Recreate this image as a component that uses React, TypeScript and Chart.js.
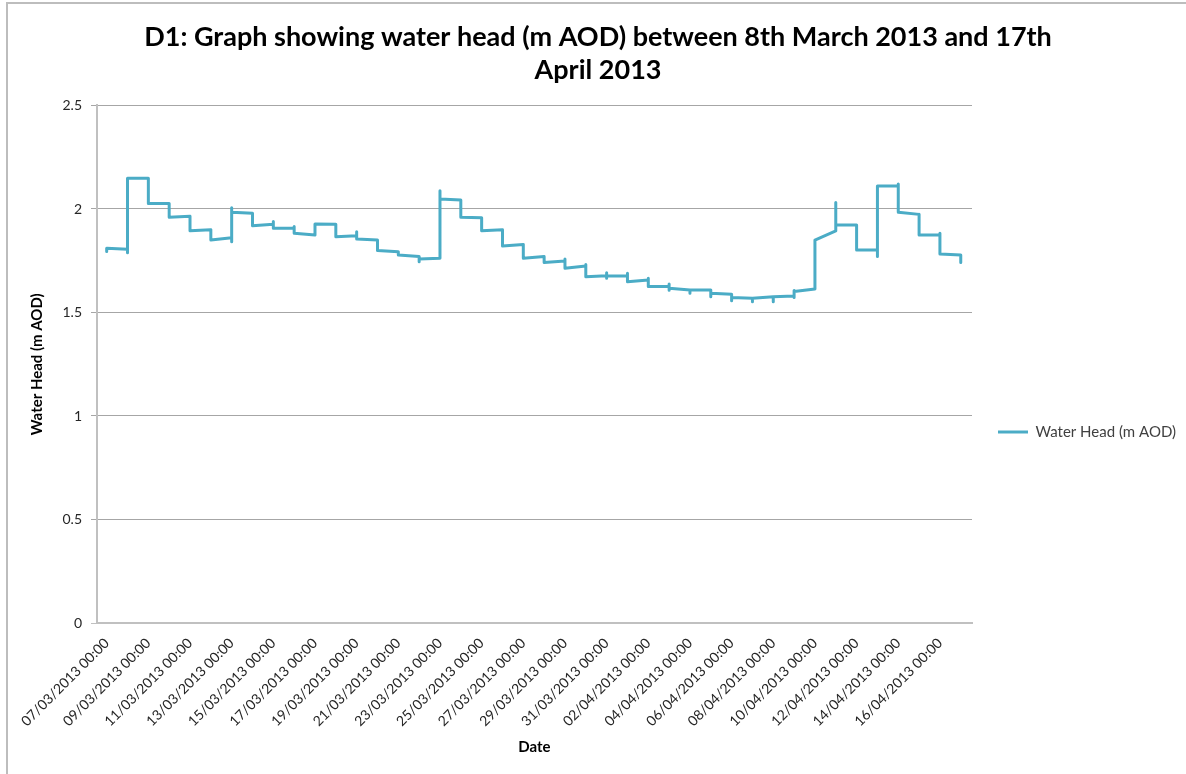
import React, { useEffect, useRef } from 'react';
import { Chart, registerables } from 'chart.js';

Chart.register(...registerables);

const chartTitle = ['D1: Graph showing water head (m AOD) between 8th March 2013 and 17th', 'April 2013'];
const seriesName = 'Water Head (m AOD)';
const xAxisTitle = 'Date';
const yAxisTitle = 'Water Head (m AOD)';

// Day 0 of the record; every daily step sits on a midnight boundary.
const firstDay = '07/03/2013 00:00';

// Head (m AOD) just after each midnight step, 07/03 ... 16/04.
const startHead = [
  1.810, 2.148, 2.027, 1.960, 1.895, 1.850, 1.984, 1.919, 1.907, 1.883,
  1.928, 1.866, 1.855, 1.800, 1.778, 1.758, 2.048, 1.960, 1.895, 1.821,
  1.762, 1.742, 1.714, 1.673, 1.678, 1.649, 1.625, 1.617, 1.609, 1.593,
  1.573, 1.569, 1.576, 1.601, 1.850, 1.923, 1.802, 2.111, 1.984, 1.874,
  1.783,
];

// Head (m AOD) at the end of the same day, just before the next step.
const endHead = [
  1.805, 2.148, 2.027, 1.965, 1.900, 1.861, 1.979, 1.926, 1.907, 1.874,
  1.926, 1.871, 1.850, 1.794, 1.770, 1.762, 2.043, 1.958, 1.900, 1.829,
  1.770, 1.749, 1.725, 1.678, 1.676, 1.657, 1.625, 1.609, 1.609, 1.588,
  1.569, 1.576, 1.580, 1.614, 1.894, 1.923, 1.802, 2.111, 1.974, 1.874,
  1.778,
];

// Brief blips recorded at a midnight boundary (day index, head).
const spikeDay = [0, 1, 6, 6, 8, 9, 12, 15, 16, 22, 23, 24, 24, 25, 26, 27, 27, 28, 29, 30, 31, 32, 33, 33, 35, 37, 38, 40, 41];
const spikeHead = [
  1.795, 1.789, 1.842, 2.006, 1.939, 1.915, 1.890, 1.745, 2.088, 1.758,
  1.732, 1.665, 1.692, 1.689, 1.665, 1.638, 1.607, 1.593, 1.576, 1.557,
  1.552, 1.552, 1.572, 1.606, 2.031, 1.770, 2.121, 1.883, 1.741,
];

const tickLabels = [
  '07/03/2013 00:00', '09/03/2013 00:00', '11/03/2013 00:00', '13/03/2013 00:00',
  '15/03/2013 00:00', '17/03/2013 00:00', '19/03/2013 00:00', '21/03/2013 00:00',
  '23/03/2013 00:00', '25/03/2013 00:00', '27/03/2013 00:00', '29/03/2013 00:00',
  '31/03/2013 00:00', '02/04/2013 00:00', '04/04/2013 00:00', '06/04/2013 00:00',
  '08/04/2013 00:00', '10/04/2013 00:00', '12/04/2013 00:00', '14/04/2013 00:00',
  '16/04/2013 00:00',
];

const yMin = 0;
const yMax = 2.5;
const yStep = 0.5;

// Date axis window, in days from firstDay.
const xMinDays = -0.465;
const xMaxDays = 41.54;

const LINE_COLOR = '#4BACC6';
const FONT = 'Lato';

function toDays(stamp: string): number {
  const [datePart, timePart = '00:00'] = stamp.split(' ');
  const [d, m, y] = datePart.split('/').map(Number);
  const [hh, mm] = timePart.split(':').map(Number);
  return Date.UTC(y, m - 1, d, hh, mm) / 86400000;
}

function dayOffset(stamp: string): number {
  return toDays(stamp) - toDays(firstDay);
}

function buildPoints() {
  const pts: { x: number; y: number }[] = [];
  for (let b = 0; b <= startHead.length; b++) {
    if (b > 0) pts.push({ x: b, y: endHead[b - 1] });
    spikeDay.forEach((d, i) => {
      if (d === b) pts.push({ x: b, y: spikeHead[i] });
    });
    if (b < startHead.length) pts.push({ x: b, y: startHead[b] });
  }
  return pts;
}

export default function App() {
  const canvasRef = useRef<HTMLCanvasElement | null>(null);

  useEffect(() => {
    if (!canvasRef.current) return;
    Chart.defaults.font.family = FONT;
    const tickDays = tickLabels.map(dayOffset);

    const chart = new Chart(canvasRef.current, {
      type: 'line',
      data: {
        datasets: [
          {
            label: seriesName,
            data: buildPoints(),
            borderColor: LINE_COLOR,
            backgroundColor: LINE_COLOR,
            borderWidth: 3,
            borderJoinStyle: 'round',
            borderCapStyle: 'round',
            pointRadius: 0,
            pointHoverRadius: 0,
            tension: 0,
            fill: false,
          },
        ],
      },
      options: {
        responsive: false,
        animation: false,
        events: [],
        layout: { padding: { left: 10, right: 0, top: 0, bottom: 0 } },
        plugins: {
          title: {
            display: true,
            text: chartTitle,
            color: '#000000',
            font: { family: FONT, size: 27, weight: 'bold', lineHeight: 1.222 },
            padding: { top: 20.5, bottom: 19 },
          },
          legend: {
            display: true,
            position: 'right',
            title: {
              display: true,
              text: '',
              font: { family: FONT, size: 15, lineHeight: 1.2 },
              padding: { top: 0, bottom: 72 },
            },
            labels: {
              usePointStyle: true,
              pointStyle: 'line',
              pointStyleWidth: 30,
              color: '#404040',
              font: { family: FONT, size: 15 },
              padding: 26,
            },
          },
          tooltip: { enabled: false },
        },
        scales: {
          x: {
            type: 'linear',
            min: xMinDays,
            max: xMaxDays,
            afterBuildTicks: (scale: any) => {
              scale.ticks = tickDays.map((v) => ({ value: v }));
            },
            afterFit: (scale: any) => {
              scale.height = 151;
            },
            ticks: {
              autoSkip: false,
              minRotation: 45,
              maxRotation: 45,
              padding: 12,
              color: '#262626',
              font: { family: FONT, size: 14 },
              callback: (_v: any, i: number) => tickLabels[i],
            },
            grid: { display: false, drawTicks: false },
            border: { display: true, color: '#c0c0c0', width: 2 },
            title: {
              display: true,
              text: xAxisTitle,
              color: '#000000',
              font: { family: FONT, size: 15, weight: 'bold' },
              padding: { top: 0, bottom: 18 },
            },
          },
          y: {
            type: 'linear',
            min: yMin,
            max: yMax,
            afterFit: (scale: any) => {
              scale.width = 87;
            },
            ticks: {
              stepSize: yStep,
              padding: 9,
              color: '#262626',
              font: { family: FONT, size: 14 },
              callback: (v: any) => String(v),
            },
            grid: {
              color: (ctx: any) => (ctx.tick && ctx.tick.value === 0 ? '#c0c0c0' : '#a6a6a6'),
              tickLength: 6,
              lineWidth: 1,
            },
            border: { display: true, color: '#c0c0c0', width: 2 },
            title: {
              display: true,
              text: yAxisTitle,
              color: '#000000',
              font: { family: FONT, size: 15, weight: 'bold' },
              padding: { top: 18, bottom: 0 },
            },
          },
        },
      },
    });

    return () => chart.destroy();
  }, []);

  return (
    <div
      style={{
        position: 'fixed',
        left: 0,
        top: 0,
        width: 1186,
        height: 774,
        background: '#ffffff',
        overflow: 'hidden',
      }}
    >
      <div
        style={{
          position: 'absolute',
          left: 6,
          top: 2,
          width: 1200,
          height: 800,
          borderLeft: '2px solid #bdbdbd',
          borderTop: '2px solid #bdbdbd',
        }}
      />
      <canvas
        ref={canvasRef}
        width={1186}
        height={774}
        style={{ position: 'absolute', left: 0, top: 0, width: 1186, height: 774 }}
      />
    </div>
  );
}
